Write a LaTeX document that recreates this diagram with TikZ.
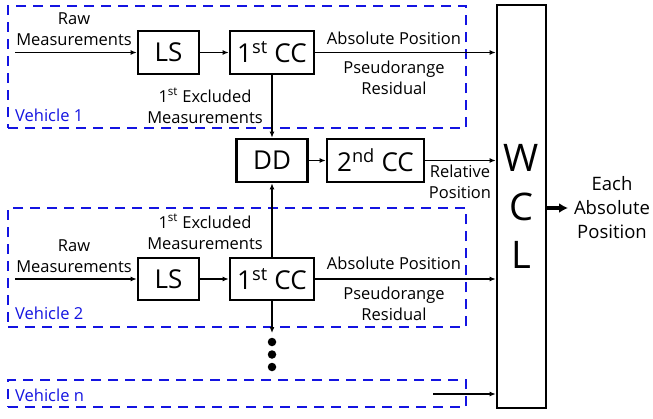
\documentclass[tikz,border=0pt]{standalone}
\usepackage{fontspec}
\setmainfont{Open Sans}
\usetikzlibrary{arrows.meta}
\definecolor{vblue}{RGB}{20,20,225}
\tikzset{
  blk/.style={draw=black, line width=2.6pt, inner sep=0pt, font=\fontsize{26}{28}\selectfont},
  vbox/.style={draw=vblue, line width=2.6pt, dash pattern=on 10pt off 7pt, inner sep=0pt},
  lbl/.style={inner sep=0pt, align=center, font=\fontsize{16.5}{21.5}\selectfont},
  vlbl/.style={inner sep=0pt, anchor=west, text=vblue, font=\fontsize{16.5}{20}\selectfont},
  arr/.style={draw=black, line width=1.6pt, -{Latex[length=6pt,width=5pt]}},
  bigarr/.style={draw=black, line width=3.5pt, -{Latex[length=9pt,width=10pt]}},
  dotn/.style={circle, fill=black, inner sep=0pt, minimum size=8.5pt}
}
\begin{document}
\begin{tikzpicture}[x=1pt,y=-1pt]
\useasboundingbox (0,0) rectangle (653,418);
% vehicle containers
\node[vbox, minimum width=458pt, minimum height=122pt] (v1) at (237,67) {};
\node[vbox, minimum width=458pt, minimum height=119pt] (v2) at (237,267.5) {};
\node[vbox, minimum width=458pt, minimum height=27pt] (vn) at (237,393.5) {};
\node[vlbl] (v1l) at (15,115) {Vehicle 1};
\node[vlbl] (v2l) at (15,313) {Vehicle 2};
\node[vlbl] (vnl) at (15,395) {Vehicle n};
% blocks
\node[blk, minimum width=61pt, minimum height=43pt] (ls1) at (168.5,52.5) {LS};
\node[blk, minimum width=84pt, minimum height=43pt] (cc1) at (272,52.5) {1\textsuperscript{st} CC};
\node[blk, minimum width=71pt, minimum height=43pt] (dd) at (272,160.5) {DD};
\node[blk, minimum width=97pt, minimum height=43pt] (cc3) at (375.5,160.5) {2\textsuperscript{nd} CC};
\node[blk, minimum width=61pt, minimum height=42pt] (ls2) at (168.5,279) {LS};
\node[blk, minimum width=84pt, minimum height=42pt] (cc2) at (272,279) {1\textsuperscript{st} CC};
\node[blk, minimum width=49pt, minimum height=403pt, align=center, font=\fontsize{38}{48.5}\selectfont] (wcl) at (521.5,206.5) {W\\C\\L};
% free ends
\coordinate (in1) at (15,52.5);
\coordinate (in2) at (15,279);
\coordinate (inn) at (433,394);
\coordinate (dtop) at (272,333);
\coordinate (out) at (568,208);
% dots
\node[dotn] (d1) at (272,342) {};
\node[dotn] (d2) at (272,354.5) {};
\node[dotn] (d3) at (272,367) {};
% connectors
\draw[arr] (in1) -- (ls1.west);
\draw[arr] (ls1) -- (cc1);
\draw[arr] (cc1.east) -- (cc1.east -| wcl.west);
\draw[arr] (cc1.south) -- (dd.north);
\draw[arr] (dd) -- (cc3);
\draw[arr] (cc3.east) -- (cc3.east -| wcl.west);
\draw[arr] (in2) -- (ls2.west);
\draw[arr] (ls2) -- (cc2);
\draw[arr] (cc2.east) -- (cc2.east -| wcl.west);
\draw[arr] (cc2.north) -- (dd.south);
\draw[arr] (cc2.south) -- (dtop);
\draw[arr] (inn) -- (inn -| wcl.west);
\draw[bigarr] (wcl.east |- out) -- (out);
% labels
\node[lbl] (raw1) at (74,29) {Raw\\Measurements};
\node[lbl] (ex1) at (205,106) {1\textsuperscript{st} Excluded\\Measurements};
\node[lbl] (ap1) at (394,38) {Absolute Position};
\node[lbl] (pr1) at (394,78) {Pseudorange\\Residual};
\node[lbl] (rp) at (460,182) {Relative\\Position};
\node[lbl, font=\fontsize{18.5}{24}\selectfont] (eap) at (612,208) {Each\\Absolute\\Position};
\node[lbl] (ex2) at (205,232) {1\textsuperscript{st} Excluded\\Measurements};
\node[lbl] (raw2) at (74,256) {Raw\\Measurements};
\node[lbl] (ap2) at (394,263) {Absolute Position};
\node[lbl] (pr2) at (394,304) {Pseudorange\\Residual};
\end{tikzpicture}
\end{document}
